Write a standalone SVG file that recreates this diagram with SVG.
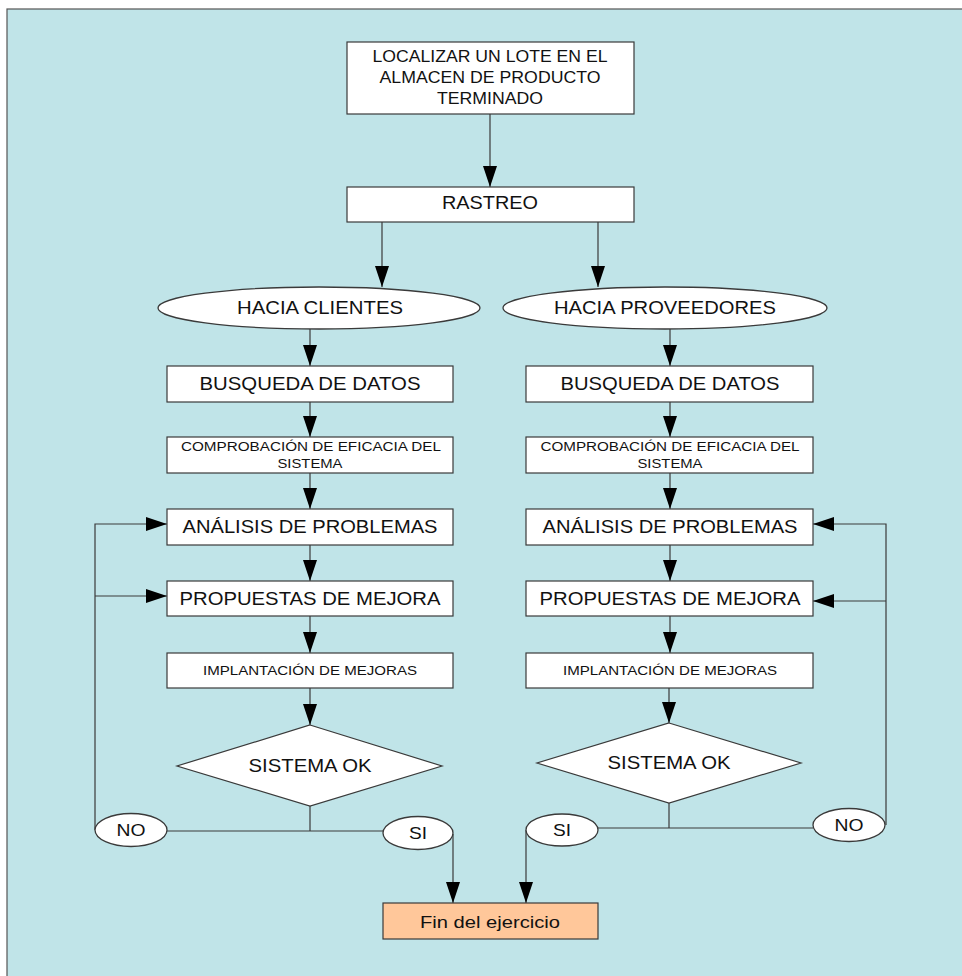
<svg xmlns="http://www.w3.org/2000/svg" width="962" height="976" viewBox="0 0 962 976">
<defs>
<marker id="ah" markerUnits="userSpaceOnUse" markerWidth="21" markerHeight="14" viewBox="0 0 21 14" refX="21" refY="7" orient="auto">
<path d="M0,0 L21,7 L0,14 z" fill="#000"/>
</marker>
<style>
.bx{fill:#fff;stroke:#3a3a3a;stroke-width:1.2}
.el{fill:#fff;stroke:#3a3a3a;stroke-width:1.3}
.fin{fill:#FFC79A;stroke:#3a3a3a;stroke-width:1.2}
.t{font-family:"Liberation Sans",Arial,sans-serif;fill:#111;text-anchor:middle}
.c{fill:none;stroke:#3a3a3a;stroke-width:1.2}
.a{marker-end:url(#ah)}
</style>
</defs>
<rect x="7" y="9" width="962" height="975" fill="#C0E4E8" stroke="#555" stroke-width="1.2"/>

<g id="connectors" class="conn">
<path class="c a" d="M490,114 V187"/>
<path class="c a" d="M382,222 V287"/>
<path class="c a" d="M598,222 V287"/>
<path class="c a" d="M310,329 V366"/>
<path class="c a" d="M310,402 V437"/>
<path class="c a" d="M310,473 V509"/>
<path class="c a" d="M310,545 V581"/>
<path class="c a" d="M310,616 V653"/>
<path class="c a" d="M310,688 V725"/>
<path class="c a" d="M670,329 V366"/>
<path class="c a" d="M670,402 V437"/>
<path class="c a" d="M670,473 V509"/>
<path class="c a" d="M670,545 V581"/>
<path class="c a" d="M670,616 V653"/>
<path class="c a" d="M669,688 V723"/>
<path class="c" d="M310,806 V831 M167,831 H383"/>
<path class="c a" d="M95,830 V524 H167"/>
<path class="c a" d="M95,596 H167"/>
<path class="c a" d="M453,834 V903"/>
<path class="c" d="M669,803 V828 M598,828 H813"/>
<path class="c a" d="M886,825 V524 H813"/>
<path class="c a" d="M886,601 H813"/>
<path class="c a" d="M526,830 V903"/>
</g>

<g id="n-localizar">
<rect class="bx" x="347" y="42" width="287" height="72"/>
<text class="t" font-size="17" x="490" y="62" textLength="235" lengthAdjust="spacingAndGlyphs">LOCALIZAR UN LOTE EN EL</text>
<text class="t" font-size="17" x="490" y="83" textLength="221" lengthAdjust="spacingAndGlyphs">ALMACEN DE PRODUCTO</text>
<text class="t" font-size="17" x="490" y="104" textLength="106" lengthAdjust="spacingAndGlyphs">TERMINADO</text>
</g>
<g id="n-rastreo">
<rect class="bx" x="347" y="187" width="287" height="35"/>
<text class="t" font-size="18" x="490" y="209" textLength="96" lengthAdjust="spacingAndGlyphs">RASTREO</text>
</g>
<g id="n-clientes">
<ellipse class="el" cx="319" cy="308" rx="161" ry="21"/>
<text class="t" font-size="19" x="320" y="314" textLength="166" lengthAdjust="spacingAndGlyphs">HACIA CLIENTES</text>
</g>
<g id="n-proveedores">
<ellipse class="el" cx="665" cy="308" rx="162" ry="21"/>
<text class="t" font-size="19" x="665" y="314" textLength="222" lengthAdjust="spacingAndGlyphs">HACIA PROVEEDORES</text>
</g>

<g id="n-busqueda-l">
<rect class="bx" x="167" y="366" width="286" height="36"/>
<text class="t" font-size="18" x="310" y="390" textLength="221" lengthAdjust="spacingAndGlyphs">BUSQUEDA DE DATOS</text>
</g>
<g id="n-comprobacion-l">
<rect class="bx" x="167" y="437" width="286" height="36"/>
<text class="t" font-size="12" x="311" y="451" textLength="260" lengthAdjust="spacingAndGlyphs">COMPROBACIÓN DE EFICACIA DEL</text>
<text class="t" font-size="12" x="310" y="468" textLength="65" lengthAdjust="spacingAndGlyphs">SISTEMA</text>
</g>
<g id="n-analisis-l">
<rect class="bx" x="167" y="509" width="286" height="36"/>
<text class="t" font-size="19" x="310" y="533" textLength="255" lengthAdjust="spacingAndGlyphs">ANÁLISIS DE PROBLEMAS</text>
</g>
<g id="n-propuestas-l">
<rect class="bx" x="167" y="581" width="286" height="35"/>
<text class="t" font-size="19" x="310" y="605" textLength="261" lengthAdjust="spacingAndGlyphs">PROPUESTAS DE MEJORA</text>
</g>
<g id="n-implantacion-l">
<rect class="bx" x="167" y="653" width="286" height="35"/>
<text class="t" font-size="13" x="310" y="675" textLength="214" lengthAdjust="spacingAndGlyphs">IMPLANTACIÓN DE MEJORAS</text>
</g>
<g id="n-sistema-l">
<polygon class="bx" points="310,725 442,766 310,806 177,766"/>
<text class="t" font-size="18" x="310" y="772" textLength="123" lengthAdjust="spacingAndGlyphs">SISTEMA OK</text>
</g>
<g id="n-no-l">
<ellipse class="el" cx="131" cy="830" rx="36" ry="16.5"/>
<text class="t" font-size="17" x="131" y="836" textLength="29" lengthAdjust="spacingAndGlyphs">NO</text>
</g>
<g id="n-si-l">
<ellipse class="el" cx="418" cy="833" rx="35" ry="16.5"/>
<text class="t" font-size="17" x="418" y="839" textLength="18" lengthAdjust="spacingAndGlyphs">SI</text>
</g>

<g id="n-busqueda-r">
<rect class="bx" x="526" y="366" width="287" height="36"/>
<text class="t" font-size="18" x="670" y="390" textLength="219" lengthAdjust="spacingAndGlyphs">BUSQUEDA DE DATOS</text>
</g>
<g id="n-comprobacion-r">
<rect class="bx" x="526" y="437" width="287" height="36"/>
<text class="t" font-size="12" x="670" y="451" textLength="259" lengthAdjust="spacingAndGlyphs">COMPROBACIÓN DE EFICACIA DEL</text>
<text class="t" font-size="12" x="670" y="468" textLength="65" lengthAdjust="spacingAndGlyphs">SISTEMA</text>
</g>
<g id="n-analisis-r">
<rect class="bx" x="526" y="509" width="287" height="36"/>
<text class="t" font-size="19" x="670" y="533" textLength="255" lengthAdjust="spacingAndGlyphs">ANÁLISIS DE PROBLEMAS</text>
</g>
<g id="n-propuestas-r">
<rect class="bx" x="526" y="581" width="287" height="35"/>
<text class="t" font-size="19" x="670" y="605" textLength="261" lengthAdjust="spacingAndGlyphs">PROPUESTAS DE MEJORA</text>
</g>
<g id="n-implantacion-r">
<rect class="bx" x="526" y="653" width="287" height="35"/>
<text class="t" font-size="13" x="670" y="675" textLength="214" lengthAdjust="spacingAndGlyphs">IMPLANTACIÓN DE MEJORAS</text>
</g>
<g id="n-sistema-r">
<polygon class="bx" points="669,723 801,763 669,803 537,763"/>
<text class="t" font-size="18" x="669" y="769" textLength="123" lengthAdjust="spacingAndGlyphs">SISTEMA OK</text>
</g>
<g id="n-si-r">
<ellipse class="el" cx="562" cy="830" rx="36" ry="16"/>
<text class="t" font-size="17" x="562" y="836" textLength="18" lengthAdjust="spacingAndGlyphs">SI</text>
</g>
<g id="n-no-r">
<ellipse class="el" cx="849" cy="825" rx="36" ry="16.5"/>
<text class="t" font-size="17" x="849" y="831" textLength="29" lengthAdjust="spacingAndGlyphs">NO</text>
</g>

<g id="n-fin">
<rect class="fin" x="383" y="903" width="215" height="36"/>
<text class="t" font-size="17" x="490" y="928" textLength="140" lengthAdjust="spacingAndGlyphs">Fin del ejercicio</text>
</g>
</svg>
